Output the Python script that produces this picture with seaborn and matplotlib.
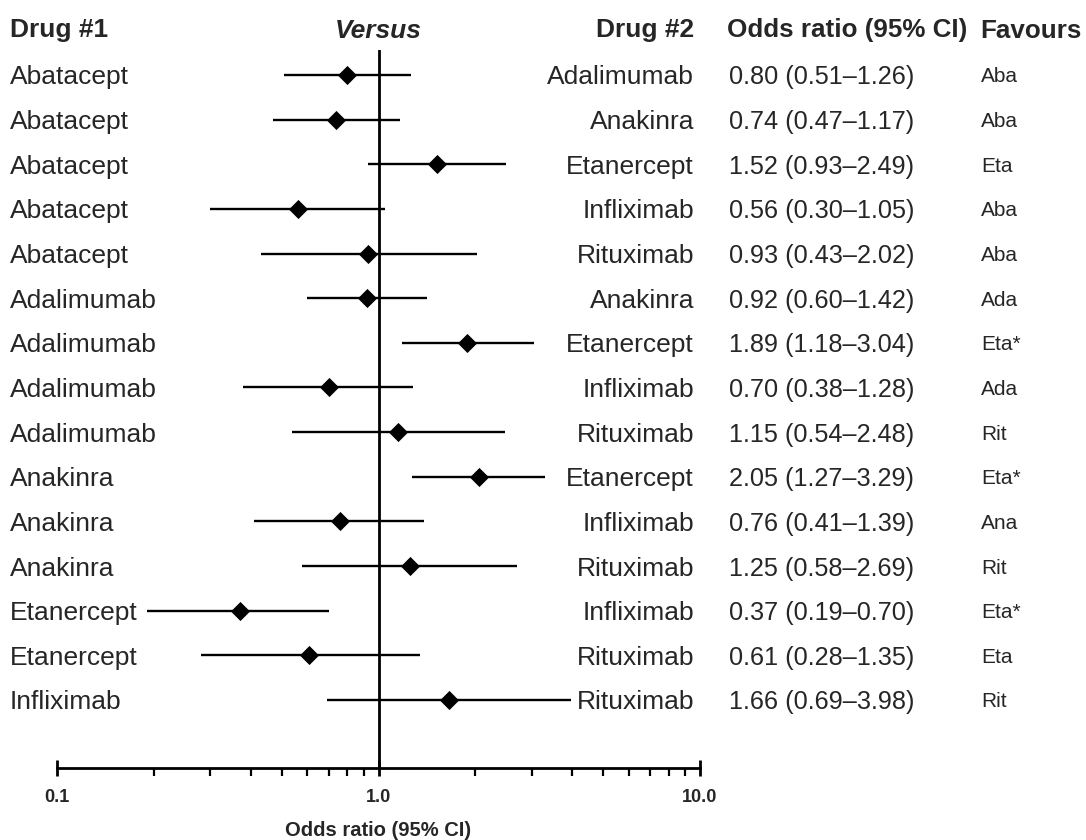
import numpy as np
import pandas as pd
import matplotlib
matplotlib.use("Agg")
import matplotlib.pyplot as plt
import matplotlib.transforms as mtransforms
from matplotlib.ticker import LogLocator, NullFormatter, FixedLocator, FixedFormatter
import seaborn as sns

drug1 = ["Abatacept", "Abatacept", "Abatacept", "Abatacept", "Abatacept",
         "Adalimumab", "Adalimumab", "Adalimumab", "Adalimumab",
         "Anakinra", "Anakinra", "Anakinra",
         "Etanercept", "Etanercept", "Infliximab"]
drug2 = ["Adalimumab", "Anakinra", "Etanercept", "Infliximab", "Rituximab",
         "Anakinra", "Etanercept", "Infliximab", "Rituximab",
         "Etanercept", "Infliximab", "Rituximab",
         "Infliximab", "Rituximab", "Rituximab"]
odds = [0.80, 0.74, 1.52, 0.56, 0.93, 0.92, 1.89, 0.70, 1.15, 2.05, 0.76, 1.25, 0.37, 0.61, 1.66]
lower = [0.51, 0.47, 0.93, 0.30, 0.43, 0.60, 1.18, 0.38, 0.54, 1.27, 0.41, 0.58, 0.19, 0.28, 0.69]
upper = [1.26, 1.17, 2.49, 1.05, 2.02, 1.42, 3.04, 1.28, 2.48, 3.29, 1.39, 2.69, 0.70, 1.35, 3.98]
favours = ["Aba", "Aba", "Eta", "Aba", "Aba", "Ada", "Eta*", "Ada", "Rit",
           "Eta*", "Ana", "Rit", "Eta*", "Eta", "Rit"]
tick_values = [0.1, 1.0, 10.0]
tick_labels = ["0.1", "1.0", "10.0"]

df = pd.DataFrame({"drug1": drug1, "drug2": drug2, "odds": odds,
                   "lower": lower, "upper": upper, "favours": favours})
df["row"] = np.arange(len(df))

sns.set_style("white")
plt.rcParams["font.family"] = ["Liberation Sans", "DejaVu Sans"]

W, H = 1086, 840
fig = plt.figure(figsize=(W / 100, H / 100), dpi=100)
ax_left, ax_right, ax_top, ax_bot = 57, 700, 50, 768
ax = fig.add_axes([ax_left / W, 1 - ax_bot / H, (ax_right - ax_left) / W, (ax_bot - ax_top) / H])

row0_px, rowN_px = 75, 700
n = len(df)
step = (rowN_px - row0_px) / (n - 1)
ax.set_xscale("log")
ax.set_xlim(0.1, 10)
ax.set_ylim(n - 1 + (ax_bot - rowN_px) / step, -(row0_px - ax_top) / step)

ax.axvline(1.0, color="black", lw=2.0, zorder=1)
ax.hlines(df["row"], df["lower"], df["upper"], color="black", lw=1.7, zorder=2)
sns.scatterplot(data=df, x="odds", y="row", marker="D", s=95, color="black",
                edgecolor="black", linewidth=0, zorder=3, ax=ax, legend=False)

for side in ["left", "right", "top"]:
    ax.spines[side].set_visible(False)
ax.spines["bottom"].set_linewidth(2.0)
ax.spines["bottom"].set_color("black")
ax.set_yticks([])
ax.set_ylabel("")
ax.xaxis.set_major_locator(FixedLocator(tick_values))
ax.xaxis.set_major_formatter(FixedFormatter(tick_labels))
ax.xaxis.set_minor_locator(LogLocator(base=10, subs=np.arange(2, 10), numticks=20))
ax.xaxis.set_minor_formatter(NullFormatter())
ax.tick_params(axis="x", which="major", direction="inout", length=12, width=2.0,
               bottom=True, labelsize=13, pad=9, color="black")
ax.tick_params(axis="x", which="minor", direction="out", length=6, width=1.6,
               bottom=True, color="black")
for lab in ax.get_xticklabels():
    lab.set_fontweight("bold")
ax.set_xlabel("Odds ratio (95% CI)", fontsize=14.5, fontweight="bold", labelpad=11)

trans = mtransforms.blended_transform_factory(fig.transFigure, ax.transData)
for _, r in df.iterrows():
    y = r["row"]
    ax.text(10 / W, y, r["drug1"], transform=trans, ha="left", va="center_baseline", fontsize=19)
    ax.text(694 / W, y, r["drug2"], transform=trans, ha="right", va="center_baseline", fontsize=19)
    ax.text(729 / W, y, f"{r['odds']:.2f} ({r['lower']:.2f}\u2013{r['upper']:.2f})",
            transform=trans, ha="left", va="center_baseline", fontsize=18.2)
    ax.text(981 / W, y, r["favours"], transform=trans, ha="left", va="center_baseline", fontsize=15)

hy = 1 - 28 / H
fig.text(10 / W, hy, "Drug #1", ha="left", va="center_baseline", fontsize=19, fontweight="bold")
fig.text(378 / W, hy, "Versus", ha="center", va="center_baseline", fontsize=19,
         fontweight="bold", fontstyle="italic")
fig.text(694 / W, hy, "Drug #2", ha="right", va="center_baseline", fontsize=19, fontweight="bold")
fig.text(727 / W, hy, "Odds ratio (95% CI)", ha="left", va="center_baseline", fontsize=18.7, fontweight="bold")
fig.text(980 / W, hy, "Favours", ha="left", va="center_baseline", fontsize=18.7, fontweight="bold")

fig.savefig("out.png", dpi=100, facecolor="white")
